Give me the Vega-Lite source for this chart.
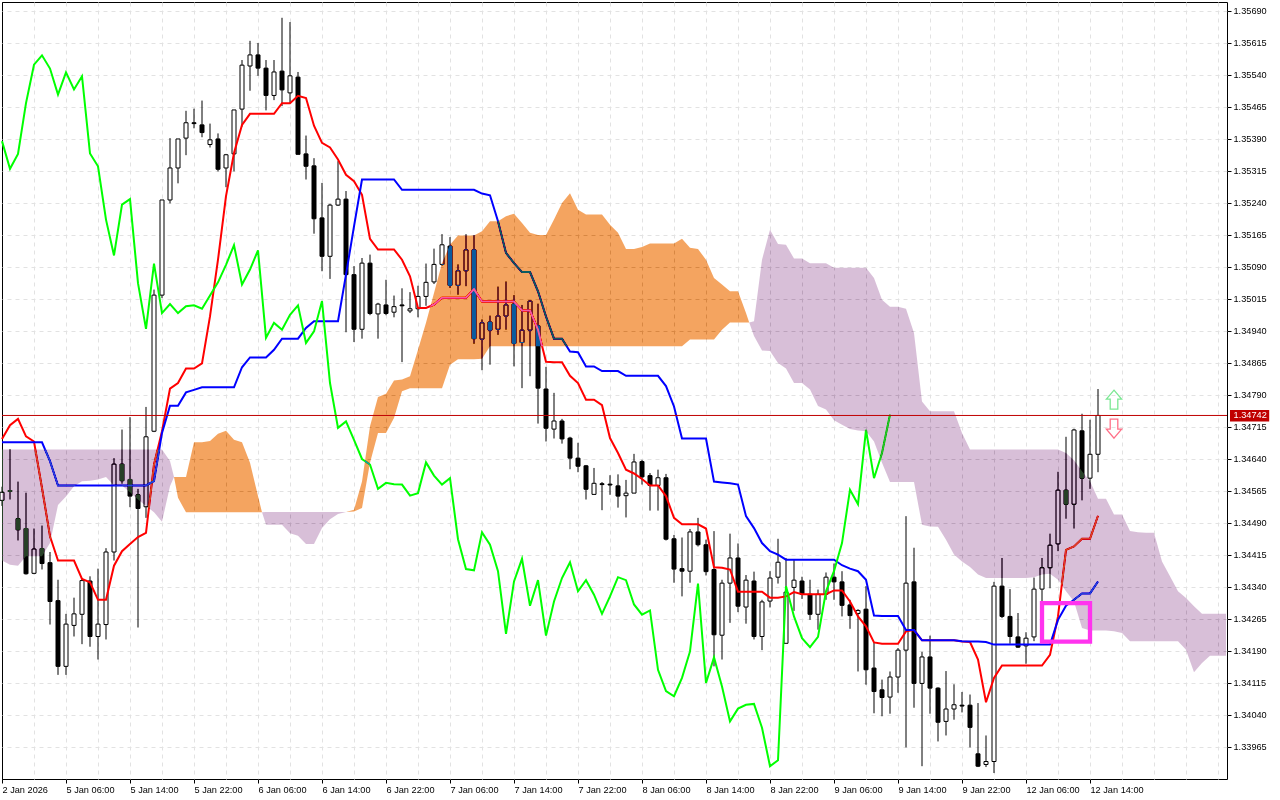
{
"$schema":"https://vega.github.io/schema/vega-lite/v6.json",
"width":1225,"height":777,
"autosize":{"type":"none"},
"padding":{"left":2,"top":2,"right":53,"bottom":21},
"background":"white",
"view":{"fill":"white","stroke":"black","strokeWidth":1},
"config":{"axis":{"labelFont":"Liberation Sans","labelFontSize":9.2,"labelColor":"black","tickColor":"black","tickSize":4,"domain":false,"title":null,"grid":true,"gridDash":[4,4],"labelOverlap":false,"labelBound":false,"labelFlush":false,"tickCount":50}},
"datasets":{
"last":[{"price":1.34742,"tagHigh":1.34755,"tagLow":1.34728,"label":"1.34742"}],
"box":[{"from":130,"to":136,"high":1.34302,"low":1.34212}],
"arrows":[{"bar":139,"price":1.34779,"dir":"up"},{"bar":139,"price":1.34711,"dir":"down"}],
"bars":[
{"bar":0,"open":1.34543,"high":1.34575,"low":1.3453,"close":1.34562,"tenkan":1.34687,"kijun":1.34679,"chikou":1.35385},
{"bar":1,"open":1.34566,"high":1.34663,"low":1.34545,"close":1.34564,"tenkan":1.34719,"kijun":1.34679,"chikou":1.3532},
{"bar":2,"open":1.345,"high":1.34587,"low":1.34449,"close":1.34474,"tenkan":1.34734,"kijun":1.34679,"chikou":1.35355},
{"bar":3,"open":1.34477,"high":1.34561,"low":1.34369,"close":1.34371,"tenkan":1.34693,"kijun":1.34679,"chikou":1.35474},
{"bar":4,"open":1.34372,"high":1.34477,"low":1.3437,"close":1.34429,"tenkan":1.34681,"kijun":1.34679,"chikou":1.35564},
{"bar":5,"open":1.3443,"high":1.34484,"low":1.34381,"close":1.34395,"tenkan":1.34572,"kijun":1.34679,"chikou":1.35586},
{"bar":6,"open":1.34397,"high":1.34422,"low":1.34252,"close":1.34306,"tenkan":1.34459,"kijun":1.34635,"chikou":1.35555},
{"bar":7,"open":1.34308,"high":1.34357,"low":1.34134,"close":1.34154,"tenkan":1.34402,"kijun":1.34578,"chikou":1.35494},
{"bar":8,"open":1.34154,"high":1.34277,"low":1.34134,"close":1.34253,"tenkan":1.34402,"kijun":1.34578,"chikou":1.35546},
{"bar":9,"open":1.3425,"high":1.34315,"low":1.34224,"close":1.34277,"tenkan":1.34402,"kijun":1.34578,"chikou":1.35506},
{"bar":10,"open":1.34276,"high":1.34361,"low":1.34206,"close":1.34355,"tenkan":1.34359,"kijun":1.34578,"chikou":1.35537},
{"bar":11,"open":1.34354,"high":1.34365,"low":1.342,"close":1.34224,"tenkan":1.34351,"kijun":1.34578,"chikou":1.35356},
{"bar":12,"open":1.34224,"high":1.34383,"low":1.3417,"close":1.34253,"tenkan":1.3431,"kijun":1.34578,"chikou":1.35326},
{"bar":13,"open":1.34252,"high":1.34431,"low":1.34217,"close":1.34422,"tenkan":1.3431,"kijun":1.34578,"chikou":1.35201},
{"bar":14,"open":1.34422,"high":1.34642,"low":1.34402,"close":1.34628,"tenkan":1.3439,"kijun":1.34578,"chikou":1.35117},
{"bar":15,"open":1.34628,"high":1.34709,"low":1.34582,"close":1.34589,"tenkan":1.34424,"kijun":1.34578,"chikou":1.35236},
{"bar":16,"open":1.34592,"high":1.34738,"low":1.34527,"close":1.34553,"tenkan":1.34441,"kijun":1.34578,"chikou":1.35249},
{"bar":17,"open":1.34556,"high":1.3457,"low":1.34245,"close":1.34524,"tenkan":1.34457,"kijun":1.34578,"chikou":1.35052},
{"bar":18,"open":1.34528,"high":1.34762,"low":1.34502,"close":1.34692,"tenkan":1.34467,"kijun":1.34578,"chikou":1.34945},
{"bar":19,"open":1.34705,"high":1.35037,"low":1.34703,"close":1.35024,"tenkan":1.34627,"kijun":1.34588,"chikou":1.35098},
{"bar":20,"open":1.35024,"high":1.35247,"low":1.35017,"close":1.35247,"tenkan":1.34705,"kijun":1.34701,"chikou":1.34982},
{"bar":21,"open":1.35247,"high":1.35392,"low":1.35239,"close":1.35322,"tenkan":1.34805,"kijun":1.34765,"chikou":1.35003},
{"bar":22,"open":1.35322,"high":1.3539,"low":1.35286,"close":1.3539,"tenkan":1.34818,"kijun":1.34765,"chikou":1.34982},
{"bar":23,"open":1.35392,"high":1.35456,"low":1.35352,"close":1.35428,"tenkan":1.34852,"kijun":1.34796,"chikou":1.34998},
{"bar":24,"open":1.35428,"high":1.35461,"low":1.35415,"close":1.35426,"tenkan":1.34852,"kijun":1.34802,"chikou":1.35},
{"bar":25,"open":1.35423,"high":1.3548,"low":1.35394,"close":1.35405,"tenkan":1.34864,"kijun":1.34808,"chikou":1.34992},
{"bar":26,"open":1.35377,"high":1.35426,"low":1.3537,"close":1.35388,"tenkan":1.34974,"kijun":1.34808,"chikou":1.35023},
{"bar":27,"open":1.3539,"high":1.35403,"low":1.35314,"close":1.35319,"tenkan":1.35107,"kijun":1.34808,"chikou":1.35054},
{"bar":28,"open":1.35322,"high":1.35355,"low":1.35277,"close":1.35353,"tenkan":1.35256,"kijun":1.34808,"chikou":1.35095},
{"bar":29,"open":1.35355,"high":1.35458,"low":1.35314,"close":1.35458,"tenkan":1.35357,"kijun":1.34808,"chikou":1.35141},
{"bar":30,"open":1.3546,"high":1.35575,"low":1.35419,"close":1.35563,"tenkan":1.35423,"kijun":1.34855,"chikou":1.35049},
{"bar":31,"open":1.35561,"high":1.3562,"low":1.35503,"close":1.35587,"tenkan":1.35449,"kijun":1.34878,"chikou":1.35084},
{"bar":32,"open":1.35587,"high":1.35615,"low":1.35538,"close":1.35556,"tenkan":1.35449,"kijun":1.34878,"chikou":1.35129},
{"bar":33,"open":1.35556,"high":1.35575,"low":1.35457,"close":1.35492,"tenkan":1.35449,"kijun":1.34878,"chikou":1.34924},
{"bar":34,"open":1.35492,"high":1.35575,"low":1.35481,"close":1.35547,"tenkan":1.35449,"kijun":1.34896,"chikou":1.34959},
{"bar":35,"open":1.35549,"high":1.35674,"low":1.35467,"close":1.35505,"tenkan":1.35474,"kijun":1.34922,"chikou":1.34943},
{"bar":36,"open":1.35498,"high":1.35664,"low":1.35474,"close":1.35538,"tenkan":1.35474,"kijun":1.34922,"chikou":1.34978},
{"bar":37,"open":1.35535,"high":1.35547,"low":1.35354,"close":1.35354,"tenkan":1.35491,"kijun":1.34922,"chikou":1.35},
{"bar":38,"open":1.35355,"high":1.35398,"low":1.35295,"close":1.35326,"tenkan":1.35486,"kijun":1.34947,"chikou":1.34912},
{"bar":39,"open":1.35327,"high":1.35345,"low":1.35168,"close":1.35203,"tenkan":1.35421,"kijun":1.34963,"chikou":1.34939},
{"bar":40,"open":1.35205,"high":1.35287,"low":1.3508,"close":1.35115,"tenkan":1.35381,"kijun":1.34963,"chikou":1.3501},
{"bar":41,"open":1.35115,"high":1.35238,"low":1.35062,"close":1.35235,"tenkan":1.3537,"kijun":1.34963,"chikou":1.34818},
{"bar":42,"open":1.35235,"high":1.35338,"low":1.35233,"close":1.35249,"tenkan":1.35342,"kijun":1.34963,"chikou":1.34713},
{"bar":43,"open":1.35249,"high":1.35268,"low":1.34937,"close":1.35072,"tenkan":1.35306,"kijun":1.35072,"chikou":1.34728},
{"bar":44,"open":1.35072,"high":1.35092,"low":1.34914,"close":1.34944,"tenkan":1.35291,"kijun":1.35185,"chikou":1.34685},
{"bar":45,"open":1.34944,"high":1.35111,"low":1.34922,"close":1.35099,"tenkan":1.35259,"kijun":1.35295,"chikou":1.3464},
{"bar":46,"open":1.35099,"high":1.35119,"low":1.34977,"close":1.34981,"tenkan":1.35156,"kijun":1.35295,"chikou":1.34627},
{"bar":47,"open":1.3498,"high":1.35006,"low":1.34922,"close":1.35003,"tenkan":1.35131,"kijun":1.35295,"chikou":1.3457},
{"bar":48,"open":1.35001,"high":1.3506,"low":1.34977,"close":1.34981,"tenkan":1.35131,"kijun":1.35295,"chikou":1.34584},
{"bar":49,"open":1.34984,"high":1.35023,"low":1.34972,"close":1.34997,"tenkan":1.35131,"kijun":1.35295,"chikou":1.34581},
{"bar":50,"open":1.35001,"high":1.3504,"low":1.34867,"close":1.34999,"tenkan":1.35107,"kijun":1.35271,"chikou":1.3458},
{"bar":51,"open":1.34987,"high":1.35031,"low":1.34982,"close":1.34992,"tenkan":1.35068,"kijun":1.35271,"chikou":1.34554},
{"bar":52,"open":1.34992,"high":1.35046,"low":1.34972,"close":1.35021,"tenkan":1.34994,"kijun":1.35271,"chikou":1.3456},
{"bar":53,"open":1.35021,"high":1.35098,"low":1.34999,"close":1.35054,"tenkan":1.34994,"kijun":1.35271,"chikou":1.34632},
{"bar":54,"open":1.35055,"high":1.35133,"low":1.3505,"close":1.35096,"tenkan":1.35002,"kijun":1.35271,"chikou":1.34601},
{"bar":55,"open":1.35096,"high":1.35167,"low":1.35093,"close":1.35142,"tenkan":1.35018,"kijun":1.35271,"chikou":1.3458},
{"bar":56,"open":1.35139,"high":1.3516,"low":1.35041,"close":1.35047,"tenkan":1.35018,"kijun":1.35271,"chikou":1.34595},
{"bar":57,"open":1.35047,"high":1.35096,"low":1.35025,"close":1.35081,"tenkan":1.35018,"kijun":1.35271,"chikou":1.34452},
{"bar":58,"open":1.35081,"high":1.35167,"low":1.35045,"close":1.3513,"tenkan":1.35018,"kijun":1.35271,"chikou":1.34382},
{"bar":59,"open":1.3513,"high":1.35165,"low":1.3491,"close":1.34922,"tenkan":1.35038,"kijun":1.35271,"chikou":1.34379},
{"bar":60,"open":1.34921,"high":1.34967,"low":1.34848,"close":1.34959,"tenkan":1.35009,"kijun":1.35262,"chikou":1.34468},
{"bar":61,"open":1.34961,"high":1.34976,"low":1.34861,"close":1.34942,"tenkan":1.35009,"kijun":1.35258,"chikou":1.34439},
{"bar":62,"open":1.34944,"high":1.35044,"low":1.34931,"close":1.34975,"tenkan":1.35009,"kijun":1.35197,"chikou":1.34377},
{"bar":63,"open":1.34975,"high":1.35056,"low":1.34943,"close":1.35001,"tenkan":1.35009,"kijun":1.35123,"chikou":1.3423},
{"bar":64,"open":1.35003,"high":1.35024,"low":1.34857,"close":1.34911,"tenkan":1.35009,"kijun":1.35099,"chikou":1.34353},
{"bar":65,"open":1.34913,"high":1.35001,"low":1.34806,"close":1.34942,"tenkan":1.34988,"kijun":1.35078,"chikou":1.34406},
{"bar":66,"open":1.34942,"high":1.35012,"low":1.34834,"close":1.3501,"tenkan":1.34988,"kijun":1.35078,"chikou":1.34296},
{"bar":67,"open":1.34952,"high":1.35004,"low":1.34723,"close":1.34806,"tenkan":1.34943,"kijun":1.35033,"chikou":1.34356},
{"bar":68,"open":1.34804,"high":1.34856,"low":1.34681,"close":1.34712,"tenkan":1.34868,"kijun":1.34974,"chikou":1.34226},
{"bar":69,"open":1.3471,"high":1.34795,"low":1.34688,"close":1.34729,"tenkan":1.34867,"kijun":1.34922,"chikou":1.34306},
{"bar":70,"open":1.34729,"high":1.34734,"low":1.34676,"close":1.34687,"tenkan":1.34867,"kijun":1.34922,"chikou":1.34361},
{"bar":71,"open":1.34689,"high":1.34692,"low":1.34616,"close":1.34642,"tenkan":1.34835,"kijun":1.34892,"chikou":1.34398},
{"bar":72,"open":1.34642,"high":1.34678,"low":1.34609,"close":1.34623,"tenkan":1.34818,"kijun":1.3489,"chikou":1.3433},
{"bar":73,"open":1.34624,"high":1.34626,"low":1.34545,"close":1.34569,"tenkan":1.34779,"kijun":1.34857,"chikou":1.34356},
{"bar":74,"open":1.34557,"high":1.34619,"low":1.34557,"close":1.34583,"tenkan":1.34779,"kijun":1.34857,"chikou":1.34322},
{"bar":75,"open":1.34582,"high":1.34586,"low":1.3452,"close":1.3458,"tenkan":1.34766,"kijun":1.34846,"chikou":1.34277},
{"bar":76,"open":1.34581,"high":1.34602,"low":1.34556,"close":1.34579,"tenkan":1.34689,"kijun":1.34846,"chikou":1.34318},
{"bar":77,"open":1.34577,"high":1.34604,"low":1.34526,"close":1.34553,"tenkan":1.34654,"kijun":1.34846,"chikou":1.34363},
{"bar":78,"open":1.34554,"high":1.34591,"low":1.34503,"close":1.3456,"tenkan":1.34615,"kijun":1.34835,"chikou":1.34356},
{"bar":79,"open":1.3456,"high":1.34652,"low":1.3456,"close":1.34633,"tenkan":1.34606,"kijun":1.34835,"chikou":1.34299},
{"bar":80,"open":1.34634,"high":1.34638,"low":1.3458,"close":1.34598,"tenkan":1.34593,"kijun":1.34835,"chikou":1.34275},
{"bar":81,"open":1.34601,"high":1.34607,"low":1.34519,"close":1.34578,"tenkan":1.34578,"kijun":1.34835,"chikou":1.34285},
{"bar":82,"open":1.34578,"high":1.34615,"low":1.34519,"close":1.34596,"tenkan":1.34578,"kijun":1.34835,"chikou":1.34146},
{"bar":83,"open":1.34596,"high":1.34605,"low":1.34449,"close":1.34452,"tenkan":1.34553,"kijun":1.34811,"chikou":1.34096},
{"bar":84,"open":1.34453,"high":1.34462,"low":1.3435,"close":1.34382,"tenkan":1.34502,"kijun":1.34763,"chikou":1.34084},
{"bar":85,"open":1.34383,"high":1.34456,"low":1.34318,"close":1.34377,"tenkan":1.34487,"kijun":1.34688,"chikou":1.34127},
{"bar":86,"open":1.34377,"high":1.34476,"low":1.3435,"close":1.34469,"tenkan":1.34487,"kijun":1.34688,"chikou":1.34189},
{"bar":87,"open":1.34469,"high":1.34502,"low":1.34435,"close":1.34439,"tenkan":1.34487,"kijun":1.34688,"chikou":1.34348},
{"bar":88,"open":1.34439,"high":1.34451,"low":1.34367,"close":1.34376,"tenkan":1.34477,"kijun":1.34688,"chikou":1.34115},
{"bar":89,"open":1.34381,"high":1.34471,"low":1.34154,"close":1.34228,"tenkan":1.34386,"kijun":1.34587,"chikou":1.34175},
{"bar":90,"open":1.34227,"high":1.34357,"low":1.3417,"close":1.34349,"tenkan":1.34385,"kijun":1.34585,"chikou":1.34107},
{"bar":91,"open":1.34349,"high":1.34465,"low":1.34256,"close":1.34408,"tenkan":1.34381,"kijun":1.34583,"chikou":1.34025},
{"bar":92,"open":1.34408,"high":1.34442,"low":1.34281,"close":1.34295,"tenkan":1.34329,"kijun":1.3458,"chikou":1.34055},
{"bar":93,"open":1.34293,"high":1.34368,"low":1.34254,"close":1.34356,"tenkan":1.34329,"kijun":1.34506,"chikou":1.34064},
{"bar":94,"open":1.34354,"high":1.34376,"low":1.34217,"close":1.34224,"tenkan":1.34329,"kijun":1.34478,"chikou":1.34066},
{"bar":95,"open":1.34224,"high":1.3431,"low":1.34192,"close":1.34305,"tenkan":1.34329,"kijun":1.34443,"chikou":1.3401},
{"bar":96,"open":1.34307,"high":1.34377,"low":1.34292,"close":1.34361,"tenkan":1.34315,"kijun":1.34424,"chikou":1.3392},
{"bar":97,"open":1.34363,"high":1.34453,"low":1.34348,"close":1.34398,"tenkan":1.34315,"kijun":1.34416,"chikou":1.33934},
{"bar":98,"open":1.34208,"high":1.34408,"low":1.34208,"close":1.34328,"tenkan":1.34318,"kijun":1.34404,"chikou":1.34342},
{"bar":99,"open":1.34339,"high":1.34404,"low":1.34284,"close":1.34356,"tenkan":1.34328,"kijun":1.34404,"chikou":1.34271},
{"bar":100,"open":1.34354,"high":1.34364,"low":1.34312,"close":1.34323,"tenkan":1.34323,"kijun":1.34404,"chikou":1.3422},
{"bar":101,"open":1.34323,"high":1.34357,"low":1.34263,"close":1.34276,"tenkan":1.34323,"kijun":1.34404,"chikou":1.34199},
{"bar":102,"open":1.34276,"high":1.34334,"low":1.3424,"close":1.34323,"tenkan":1.34323,"kijun":1.34404,"chikou":1.34223},
{"bar":103,"open":1.34323,"high":1.34374,"low":1.3431,"close":1.34363,"tenkan":1.34323,"kijun":1.34404,"chikou":1.3433},
{"bar":104,"open":1.34363,"high":1.34395,"low":1.3431,"close":1.34352,"tenkan":1.34332,"kijun":1.34404,"chikou":1.34377},
{"bar":105,"open":1.34352,"high":1.34377,"low":1.34271,"close":1.34297,"tenkan":1.34332,"kijun":1.34391,"chikou":1.34443},
{"bar":106,"open":1.34298,"high":1.3431,"low":1.34242,"close":1.34273,"tenkan":1.34306,"kijun":1.34383,"chikou":1.34568},
{"bar":107,"open":1.34278,"high":1.34288,"low":1.34142,"close":1.34285,"tenkan":1.34271,"kijun":1.34377,"chikou":1.34534},
{"bar":108,"open":1.34288,"high":1.34342,"low":1.34111,"close":1.34146,"tenkan":1.34248,"kijun":1.34357,"chikou":1.34708},
{"bar":109,"open":1.3415,"high":1.34209,"low":1.34044,"close":1.34095,"tenkan":1.3421,"kijun":1.34273,"chikou":1.34595},
{"bar":110,"open":1.34099,"high":1.34123,"low":1.34037,"close":1.34081,"tenkan":1.34207,"kijun":1.34272,"chikou":1.34654},
{"bar":111,"open":1.34082,"high":1.34142,"low":1.34043,"close":1.34129,"tenkan":1.34207,"kijun":1.34272,"chikou":1.34744},
{"bar":112,"open":1.34129,"high":1.34197,"low":1.34092,"close":1.34192,"tenkan":1.34207,"kijun":1.34272},
{"bar":113,"open":1.34192,"high":1.34506,"low":1.33964,"close":1.34349,"tenkan":1.34236,"kijun":1.34239},
{"bar":114,"open":1.34352,"high":1.34432,"low":1.34057,"close":1.34114,"tenkan":1.34239,"kijun":1.34239},
{"bar":115,"open":1.34114,"high":1.34188,"low":1.3392,"close":1.34176,"tenkan":1.34215,"kijun":1.34215},
{"bar":116,"open":1.34176,"high":1.34226,"low":1.34043,"close":1.34103,"tenkan":1.34215,"kijun":1.34215},
{"bar":117,"open":1.34103,"high":1.34105,"low":1.33978,"close":1.34023,"tenkan":1.34215,"kijun":1.34215},
{"bar":118,"open":1.34025,"high":1.34143,"low":1.33992,"close":1.34054,"tenkan":1.34215,"kijun":1.34215},
{"bar":119,"open":1.34054,"high":1.34112,"low":1.34029,"close":1.34064,"tenkan":1.34215,"kijun":1.34215},
{"bar":120,"open":1.34063,"high":1.34094,"low":1.34046,"close":1.34061,"tenkan":1.34212,"kijun":1.34213},
{"bar":121,"open":1.34063,"high":1.34088,"low":1.33964,"close":1.34011,"tenkan":1.34211,"kijun":1.34212},
{"bar":122,"open":1.33949,"high":1.34068,"low":1.33918,"close":1.3392,"tenkan":1.3417,"kijun":1.34212},
{"bar":123,"open":1.33924,"high":1.33992,"low":1.33918,"close":1.33931,"tenkan":1.3407,"kijun":1.34211},
{"bar":124,"open":1.33931,"high":1.34352,"low":1.33904,"close":1.34342,"tenkan":1.34127,"kijun":1.34205},
{"bar":125,"open":1.34342,"high":1.34408,"low":1.34267,"close":1.34271,"tenkan":1.34156,"kijun":1.34205},
{"bar":126,"open":1.34271,"high":1.34335,"low":1.34207,"close":1.34224,"tenkan":1.34156,"kijun":1.34205},
{"bar":127,"open":1.34223,"high":1.34279,"low":1.34197,"close":1.34199,"tenkan":1.34156,"kijun":1.34205},
{"bar":128,"open":1.34202,"high":1.34234,"low":1.3416,"close":1.3422,"tenkan":1.34156,"kijun":1.34205},
{"bar":129,"open":1.34223,"high":1.34362,"low":1.34213,"close":1.34335,"tenkan":1.34156,"kijun":1.34205},
{"bar":130,"open":1.34335,"high":1.34408,"low":1.34304,"close":1.34385,"tenkan":1.34156,"kijun":1.34205},
{"bar":131,"open":1.34385,"high":1.34465,"low":1.34337,"close":1.34438,"tenkan":1.34181,"kijun":1.34205},
{"bar":132,"open":1.34441,"high":1.3461,"low":1.34424,"close":1.34567,"tenkan":1.34271,"kijun":1.34263},
{"bar":133,"open":1.34567,"high":1.34692,"low":1.345,"close":1.34534,"tenkan":1.34427,"kijun":1.34296},
{"bar":134,"open":1.34534,"high":1.34711,"low":1.34477,"close":1.34708,"tenkan":1.34435,"kijun":1.3431},
{"bar":135,"open":1.34706,"high":1.34746,"low":1.34543,"close":1.34595,"tenkan":1.34453,"kijun":1.34325},
{"bar":136,"open":1.34595,"high":1.34732,"low":1.3457,"close":1.34651,"tenkan":1.34453,"kijun":1.34325},
{"bar":137,"open":1.34651,"high":1.34804,"low":1.34609,"close":1.34742,"tenkan":1.34507,"kijun":1.34353}
],
"bullish":[
{"seg":1,"bar":21.5,"top":1.34598,"bottom":1.34598},{"seg":1,"bar":22,"top":1.34598,"bottom":1.34549},{"seg":1,"bar":23,"top":1.34598,"bottom":1.34515},{"seg":1,"bar":24,"top":1.34679,"bottom":1.34515},{"seg":1,"bar":25,"top":1.34679,"bottom":1.34515},{"seg":1,"bar":26,"top":1.34682,"bottom":1.34515},{"seg":1,"bar":27,"top":1.34699,"bottom":1.34515},{"seg":1,"bar":28,"top":1.34706,"bottom":1.34515},{"seg":1,"bar":29,"top":1.34685,"bottom":1.34515},{"seg":1,"bar":30,"top":1.34679,"bottom":1.34515},{"seg":1,"bar":31,"top":1.34631,"bottom":1.34515},{"seg":1,"bar":32,"top":1.34553,"bottom":1.34515},{"seg":1,"bar":32.5,"top":1.34515,"bottom":1.34515},
{"seg":2,"bar":43,"top":1.34516,"bottom":1.34516},{"seg":2,"bar":44,"top":1.34521,"bottom":1.34517},{"seg":2,"bar":45,"top":1.34587,"bottom":1.34525},{"seg":2,"bar":46,"top":1.34717,"bottom":1.34631},{"seg":2,"bar":47,"top":1.34785,"bottom":1.34701},{"seg":2,"bar":48,"top":1.34793,"bottom":1.34701},{"seg":2,"bar":49,"top":1.34824,"bottom":1.34736},{"seg":2,"bar":50,"top":1.34826,"bottom":1.34799},{"seg":2,"bar":51,"top":1.34834,"bottom":1.34806},{"seg":2,"bar":52,"top":1.34896,"bottom":1.34806},{"seg":2,"bar":53,"top":1.34959,"bottom":1.34806},{"seg":2,"bar":54,"top":1.35029,"bottom":1.34806},{"seg":2,"bar":55,"top":1.35099,"bottom":1.34806},{"seg":2,"bar":56,"top":1.35142,"bottom":1.34861},{"seg":2,"bar":57,"top":1.35164,"bottom":1.34874},{"seg":2,"bar":58,"top":1.35164,"bottom":1.34874},{"seg":2,"bar":59,"top":1.35164,"bottom":1.34874},{"seg":2,"bar":60,"top":1.35174,"bottom":1.34875},{"seg":2,"bar":61,"top":1.35197,"bottom":1.34904},{"seg":2,"bar":62,"top":1.35197,"bottom":1.34904},{"seg":2,"bar":63,"top":1.35209,"bottom":1.34904},{"seg":2,"bar":64,"top":1.35215,"bottom":1.34904},{"seg":2,"bar":65,"top":1.35193,"bottom":1.34904},{"seg":2,"bar":66,"top":1.3517,"bottom":1.34904},{"seg":2,"bar":67,"top":1.35165,"bottom":1.34904},{"seg":2,"bar":68,"top":1.35165,"bottom":1.34904},{"seg":2,"bar":69,"top":1.35201,"bottom":1.34904},{"seg":2,"bar":70,"top":1.3524,"bottom":1.34904},{"seg":2,"bar":71,"top":1.35263,"bottom":1.34904},{"seg":2,"bar":72,"top":1.35224,"bottom":1.34904},{"seg":2,"bar":73,"top":1.35213,"bottom":1.34904},{"seg":2,"bar":74,"top":1.35213,"bottom":1.34904},{"seg":2,"bar":75,"top":1.35213,"bottom":1.34904},{"seg":2,"bar":76,"top":1.35189,"bottom":1.34904},{"seg":2,"bar":77,"top":1.3517,"bottom":1.34904},{"seg":2,"bar":78,"top":1.35132,"bottom":1.34904},{"seg":2,"bar":79,"top":1.35132,"bottom":1.34904},{"seg":2,"bar":80,"top":1.35137,"bottom":1.34904},{"seg":2,"bar":81,"top":1.35145,"bottom":1.34904},{"seg":2,"bar":82,"top":1.35145,"bottom":1.34904},{"seg":2,"bar":83,"top":1.35145,"bottom":1.34904},{"seg":2,"bar":84,"top":1.35145,"bottom":1.34904},{"seg":2,"bar":85,"top":1.35156,"bottom":1.34904},{"seg":2,"bar":86,"top":1.35135,"bottom":1.3492},{"seg":2,"bar":87,"top":1.35132,"bottom":1.3492},{"seg":2,"bar":88,"top":1.35107,"bottom":1.3492},{"seg":2,"bar":89,"top":1.35064,"bottom":1.3492},{"seg":2,"bar":90,"top":1.35049,"bottom":1.34943},{"seg":2,"bar":91,"top":1.35033,"bottom":1.3496},{"seg":2,"bar":92,"top":1.35033,"bottom":1.3496},{"seg":2,"bar":93,"top":1.34982,"bottom":1.3496},{"seg":2,"bar":93.4,"top":1.3496,"bottom":1.3496}
],
"bearish":[
{"seg":1,"bar":0,"top":1.34662,"bottom":1.34402},{"seg":1,"bar":1,"top":1.34662,"bottom":1.34392},{"seg":1,"bar":2,"top":1.34662,"bottom":1.3439},{"seg":1,"bar":3,"top":1.34662,"bottom":1.34412},{"seg":1,"bar":4,"top":1.34662,"bottom":1.34412},{"seg":1,"bar":5,"top":1.34662,"bottom":1.34412},{"seg":1,"bar":6,"top":1.34662,"bottom":1.34443},{"seg":1,"bar":7,"top":1.34662,"bottom":1.34532},{"seg":1,"bar":8,"top":1.34662,"bottom":1.34552},{"seg":1,"bar":9,"top":1.34662,"bottom":1.34576},{"seg":1,"bar":10,"top":1.34662,"bottom":1.34588},{"seg":1,"bar":11,"top":1.34662,"bottom":1.34589},{"seg":1,"bar":12,"top":1.34662,"bottom":1.34592},{"seg":1,"bar":13,"top":1.34662,"bottom":1.34598},{"seg":1,"bar":14,"top":1.34662,"bottom":1.34578},{"seg":1,"bar":15,"top":1.34662,"bottom":1.34578},{"seg":1,"bar":16,"top":1.34662,"bottom":1.34562},{"seg":1,"bar":17,"top":1.34662,"bottom":1.34545},{"seg":1,"bar":18,"top":1.34662,"bottom":1.3453},{"seg":1,"bar":19,"top":1.34662,"bottom":1.34515},{"seg":1,"bar":20,"top":1.34662,"bottom":1.34493},{"seg":1,"bar":21,"top":1.34635,"bottom":1.34576},{"seg":1,"bar":21.5,"top":1.34598,"bottom":1.34598},
{"seg":2,"bar":32.5,"top":1.34515,"bottom":1.34515},{"seg":2,"bar":33,"top":1.34516,"bottom":1.34486},{"seg":2,"bar":34,"top":1.34516,"bottom":1.34486},{"seg":2,"bar":35,"top":1.34516,"bottom":1.34486},{"seg":2,"bar":36,"top":1.34516,"bottom":1.34466},{"seg":2,"bar":37,"top":1.34516,"bottom":1.3446},{"seg":2,"bar":38,"top":1.34516,"bottom":1.34441},{"seg":2,"bar":39,"top":1.34516,"bottom":1.34441},{"seg":2,"bar":40,"top":1.34516,"bottom":1.34478},{"seg":2,"bar":41,"top":1.34516,"bottom":1.34499},{"seg":2,"bar":42,"top":1.34516,"bottom":1.34511},{"seg":2,"bar":43,"top":1.34516,"bottom":1.34516},
{"seg":3,"bar":93.4,"top":1.3496,"bottom":1.3496},{"seg":3,"bar":94,"top":1.34963,"bottom":1.34928},{"seg":3,"bar":95,"top":1.35107,"bottom":1.34894},{"seg":3,"bar":96,"top":1.35177,"bottom":1.34893},{"seg":3,"bar":97,"top":1.35144,"bottom":1.34865},{"seg":3,"bar":98,"top":1.35142,"bottom":1.34852},{"seg":3,"bar":99,"top":1.3511,"bottom":1.34818},{"seg":3,"bar":100,"top":1.3511,"bottom":1.34818},{"seg":3,"bar":101,"top":1.35099,"bottom":1.34803},{"seg":3,"bar":102,"top":1.35099,"bottom":1.34764},{"seg":3,"bar":103,"top":1.35099,"bottom":1.34756},{"seg":3,"bar":104,"top":1.35088,"bottom":1.34731},{"seg":3,"bar":105,"top":1.35088,"bottom":1.3472},{"seg":3,"bar":106,"top":1.35088,"bottom":1.3471},{"seg":3,"bar":107,"top":1.35088,"bottom":1.34707},{"seg":3,"bar":108,"top":1.35088,"bottom":1.34705},{"seg":3,"bar":109,"top":1.35064,"bottom":1.34681},{"seg":3,"bar":110,"top":1.35013,"bottom":1.34631},{"seg":3,"bar":111,"top":1.34997,"bottom":1.34586},{"seg":3,"bar":112,"top":1.34997,"bottom":1.34586},{"seg":3,"bar":113,"top":1.34992,"bottom":1.34586},{"seg":3,"bar":114,"top":1.34935,"bottom":1.34586},{"seg":3,"bar":115,"top":1.34775,"bottom":1.34486},{"seg":3,"bar":116,"top":1.34752,"bottom":1.34482},{"seg":3,"bar":117,"top":1.34752,"bottom":1.34481},{"seg":3,"bar":118,"top":1.34752,"bottom":1.34451},{"seg":3,"bar":119,"top":1.34752,"bottom":1.34416},{"seg":3,"bar":120,"top":1.34701,"bottom":1.344},{"seg":3,"bar":121,"top":1.34662,"bottom":1.34387},{"seg":3,"bar":122,"top":1.34662,"bottom":1.34369},{"seg":3,"bar":123,"top":1.34662,"bottom":1.34361},{"seg":3,"bar":124,"top":1.34662,"bottom":1.34361},{"seg":3,"bar":125,"top":1.34662,"bottom":1.34361},{"seg":3,"bar":126,"top":1.34662,"bottom":1.34361},{"seg":3,"bar":127,"top":1.34662,"bottom":1.34361},{"seg":3,"bar":128,"top":1.34662,"bottom":1.34361},{"seg":3,"bar":129,"top":1.34662,"bottom":1.34363},{"seg":3,"bar":130,"top":1.34662,"bottom":1.34369},{"seg":3,"bar":131,"top":1.34662,"bottom":1.34371},{"seg":3,"bar":132,"top":1.34662,"bottom":1.34357},{"seg":3,"bar":133,"top":1.34654,"bottom":1.3433},{"seg":3,"bar":134,"top":1.34637,"bottom":1.34306},{"seg":3,"bar":135,"top":1.34611,"bottom":1.34244},{"seg":3,"bar":136,"top":1.34588,"bottom":1.34238},{"seg":3,"bar":137,"top":1.34547,"bottom":1.34238},{"seg":3,"bar":138,"top":1.34547,"bottom":1.34238},{"seg":3,"bar":139,"top":1.3451,"bottom":1.34236},{"seg":3,"bar":140,"top":1.3451,"bottom":1.34232},{"seg":3,"bar":141,"top":1.34471,"bottom":1.34213},{"seg":3,"bar":142,"top":1.34468,"bottom":1.34213},{"seg":3,"bar":143,"top":1.34467,"bottom":1.34213},{"seg":3,"bar":144,"top":1.34467,"bottom":1.34213},{"seg":3,"bar":145,"top":1.344,"bottom":1.34213},{"seg":3,"bar":146,"top":1.34365,"bottom":1.34213},{"seg":3,"bar":147,"top":1.3433,"bottom":1.34213},{"seg":3,"bar":148,"top":1.34314,"bottom":1.34193},{"seg":3,"bar":149,"top":1.34295,"bottom":1.3414},{"seg":3,"bar":150,"top":1.34277,"bottom":1.34162},{"seg":3,"bar":151,"top":1.34277,"bottom":1.34179},{"seg":3,"bar":152,"top":1.34277,"bottom":1.34179},{"seg":3,"bar":153,"top":1.34277,"bottom":1.34179}
]
},
"layer":[
{"data":{"name":"bars"},"mark":{"type":"rule","color":"black","strokeWidth":1},
 "encoding":{
  "x":{"field":"bar","type":"quantitative","scale":{"domain":[0,153.125],"nice":false,"zero":false,"padding":0},
   "axis":{"values":[0,4,8,12,16,20,24,28,32,36,40,44,48,52,56,60,64,68,72,76,80,84,88,92,96,100,104,108,112,116,120,124,128,132,136,140,144,148,152],
    "tickCount":50,"labelAlign":"left","labelPadding":2,"labelOverlap":false,"labelExpr":"{0:'2 Jan 2026',8:'5 Jan 06:00',16:'5 Jan 14:00',24:'5 Jan 22:00',32:'6 Jan 06:00',40:'6 Jan 14:00',48:'6 Jan 22:00',56:'7 Jan 06:00',64:'7 Jan 14:00',72:'7 Jan 22:00',80:'8 Jan 06:00',88:'8 Jan 14:00',96:'8 Jan 22:00',104:'9 Jan 06:00',112:'9 Jan 14:00',120:'9 Jan 22:00',128:'12 Jan 06:00',136:'12 Jan 14:00'}[datum.value] || ''",
    "gridColor":{"condition":{"test":"datum.value == 0","value":"black"},"value":"#e2e2e2"},
    "tickOpacity":{"condition":{"test":"datum.value % 8 == 0 && datum.value <= 136","value":1},"value":0}}},
  "y":{"field":"low","type":"quantitative","scale":{"domain":[1.3389,1.35711],"nice":false,"zero":false},
   "axis":{"orient":"right","format":".5f","tickCount":50,"labelPadding":2,"labelOverlap":false,"gridColor":"#e2e2e2","values":[1.3569,1.35615,1.3554,1.35465,1.3539,1.35315,1.3524,1.35165,1.3509,1.35015,1.3494,1.34865,1.3479,1.34715,1.3464,1.34565,1.3449,1.34415,1.3434,1.34265,1.3419,1.34115,1.3404,1.33965]}},
  "y2":{"field":"high"}}},
{"data":{"name":"bars"},"mark":{"type":"bar","size":4,"stroke":"black","strokeWidth":1},
 "encoding":{"x":{"field":"bar","type":"quantitative"},"y":{"field":"open","type":"quantitative"},"y2":{"field":"close"},
  "fill":{"condition":{"test":"datum.close >= datum.open","value":"white"},"value":"black"}}},
{"data":{"name":"bars"},"mark":{"type":"line","color":"#ff0000","strokeWidth":2},
 "encoding":{"x":{"field":"bar","type":"quantitative"},"y":{"field":"tenkan","type":"quantitative"}}},
{"data":{"name":"bars"},"mark":{"type":"line","color":"#0000ff","strokeWidth":2},
 "encoding":{"x":{"field":"bar","type":"quantitative"},"y":{"field":"kijun","type":"quantitative"}}},
{"data":{"name":"bars"},"mark":{"type":"line","color":"#00ff00","strokeWidth":2},
 "encoding":{"x":{"field":"bar","type":"quantitative"},"y":{"field":"chikou","type":"quantitative"}}},
{"data":{"name":"bullish"},"mark":{"type":"area","fill":"#0b5b9f","opacity":1,"blend":"difference"},
 "encoding":{"x":{"field":"bar","type":"quantitative"},"y":{"field":"top","type":"quantitative"},"y2":{"field":"bottom"},"detail":{"field":"seg"}}},
{"data":{"name":"bearish"},"mark":{"type":"area","fill":"#274027","opacity":1,"blend":"difference"},
 "encoding":{"x":{"field":"bar","type":"quantitative"},"y":{"field":"top","type":"quantitative"},"y2":{"field":"bottom"},"detail":{"field":"seg"}}},
{"data":{"name":"last"},"mark":{"type":"rule","color":"#c00000","strokeWidth":1},"encoding":{"y":{"field":"price","type":"quantitative"}}},
{"data":{"name":"last"},"mark":{"type":"rect","fill":"#c00000"},"encoding":{"x":{"datum":153.5,"type":"quantitative"},"x2":{"datum":158.4},"y":{"field":"tagHigh","type":"quantitative"},"y2":{"field":"tagLow"}}},
{"data":{"name":"last"},"mark":{"type":"text","align":"left","baseline":"middle","color":"white","font":"Liberation Sans","fontSize":9.2},"encoding":{"x":{"datum":153.95,"type":"quantitative"},"y":{"field":"price","type":"quantitative"},"text":{"field":"label"}}},
{"data":{"name":"box"},"mark":{"type":"rect","filled":false,"stroke":"#ff33ee","strokeWidth":4.3},"encoding":{"x":{"field":"from","type":"quantitative"},"x2":{"field":"to"},"y":{"field":"high","type":"quantitative"},"y2":{"field":"low"}}},
{"data":{"name":"arrows"},"transform":[{"filter":"datum.dir == 'up'"}],"mark":{"type":"point","shape":"M0,-1L0.8,-0.05L0.4,-0.05L0.4,1L-0.4,1L-0.4,-0.05L-0.8,-0.05Z","filled":false,"stroke":"#44dd66","strokeWidth":1.3,"size":361},"encoding":{"x":{"field":"bar","type":"quantitative"},"y":{"field":"price","type":"quantitative"}}},
{"data":{"name":"arrows"},"transform":[{"filter":"datum.dir == 'down'"}],"mark":{"type":"point","shape":"M0,1L0.8,0.05L0.4,0.05L0.4,-1L-0.4,-1L-0.4,0.05L-0.8,0.05Z","filled":false,"stroke":"#ff3355","strokeWidth":1.3,"size":361},"encoding":{"x":{"field":"bar","type":"quantitative"},"y":{"field":"price","type":"quantitative"}}}
]
}
